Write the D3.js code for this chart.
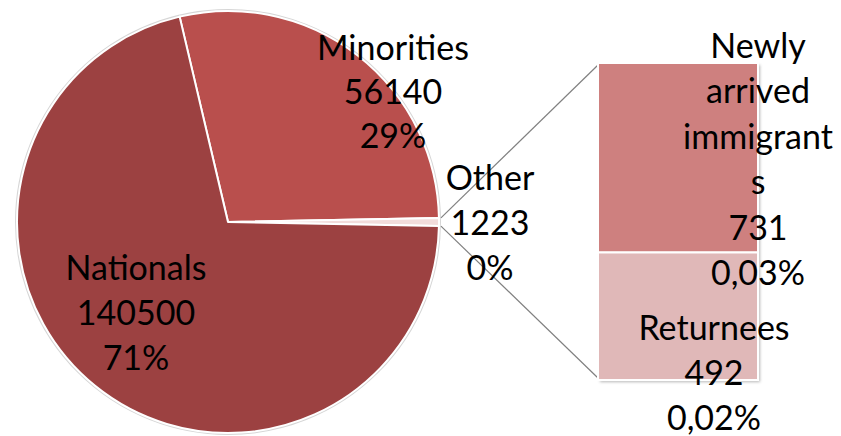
<!DOCTYPE html>
<html><head><meta charset="utf-8">
<script src="https://cdn.jsdelivr.net/npm/d3@7"></script>
<style>body{margin:0;background:#fff}svg{display:block}text{font-family:Lato,"Open Sans",sans-serif;font-size:34px;fill:#000}</style>
</head><body>
<svg id="c" width="841" height="436"></svg>
<script>
// Data
const pieCategories = ["Minorities", "Other", "Nationals"];
const pieValues = [56140, 1223, 140500];
const pieLabels = [["Minorities","56140","29%"],["Other","1223","0%"],["Nationals","140500","71%"]];
const barCategories = ["Newly arrived immigrants", "Returnees"];
const barValues = [731, 492];
const barLabels = [["Newly","arrived","immigrant","s","731","0,03%"],["Returnees","492","0,02%"]];
const pieColors = ["#b94f4d", "#f2dcdb", "#9c4141"];
const barColors = ["#ce807f", "#e0b8b8"];

const svg = d3.select("#c");
const cx = 228, cy = 222, r = 211;
const total = d3.sum(pieValues);
const angScale = d3.scaleLinear().domain([0, total]).range([0, 2*Math.PI]);
const start = Math.PI/2 - angScale(pieValues[0] + pieValues[1]/2);
const pie = d3.pie().sort(null).startAngle(start).endAngle(start + 2*Math.PI);
const arcs = pie(pieValues);
const arc = d3.arc().innerRadius(0).outerRadius(r);

const g = svg.append("g").attr("transform", `translate(${cx},${cy})`);
g.append("circle").attr("r", r + 1).attr("fill", "none").attr("stroke", "#d6d6d6").attr("stroke-width", 2);
g.selectAll("path.s").data(arcs).join("path").attr("class","s")
  .attr("d", arc).attr("fill", (d,i) => pieColors[i])
  .attr("stroke", "#fff").attr("stroke-width", 2).attr("stroke-linejoin","round");

// Bar
const bx0 = 598, bx1 = 758, by0 = 63, by1 = 380;
const y = d3.scaleLinear().domain([0, d3.sum(barValues)]).range([by0, by1]);
const stackStarts = barValues.map((v,i) => d3.sum(barValues.slice(0,i)));

// connector lines from Other slice ends
const o = arcs[1];
const p1 = [cx + r*Math.sin(o.startAngle), cy - r*Math.cos(o.startAngle)];
const p2 = [cx + r*Math.sin(o.endAngle), cy - r*Math.cos(o.endAngle)];
svg.append("line").attr("x1", p1[0]+2).attr("y1", p1[1]).attr("x2", bx0).attr("y2", y(0)+2)
  .attr("stroke", "#808080").attr("stroke-width", 1.2);
svg.append("line").attr("x1", p2[0]+2).attr("y1", p2[1]).attr("x2", bx0).attr("y2", y(d3.sum(barValues))-2)
  .attr("stroke", "#808080").attr("stroke-width", 1.2);

const defs = svg.append("defs");
const f = defs.append("filter").attr("id","sh").attr("x","-10%").attr("y","-10%").attr("width","130%").attr("height","130%");
f.append("feGaussianBlur").attr("stdDeviation", 1.5);
svg.append("rect").attr("x", bx0+2).attr("y", by0+2).attr("width", bx1-bx0).attr("height", by1-by0)
  .attr("fill", "#9a9a9a").attr("filter","url(#sh)").attr("opacity",0.7);
svg.selectAll("rect.b").data(barValues).join("rect").attr("class","b")
  .attr("x", bx0).attr("width", bx1-bx0)
  .attr("y", (d,i) => y(stackStarts[i])).attr("height", d => y(d) - y(0))
  .attr("fill", (d,i) => barColors[i]).attr("stroke", "#fff").attr("stroke-width", 2);

// Labels
function label(lines, x, y0, dy) {
  const t = svg.append("text").attr("text-anchor","middle");
  lines.forEach((s,i) => t.append("tspan").attr("x", x).attr("y", y0 + i*dy).text(s));
}
label(pieLabels[0], 393, 60, 44);
label(pieLabels[1], 490, 190, 45);
label(pieLabels[2], 136, 280, 45);
label(barLabels[0], 758, 58, 45.4);
label(barLabels[1], 714, 340, 45);
</script>
</body></html>
